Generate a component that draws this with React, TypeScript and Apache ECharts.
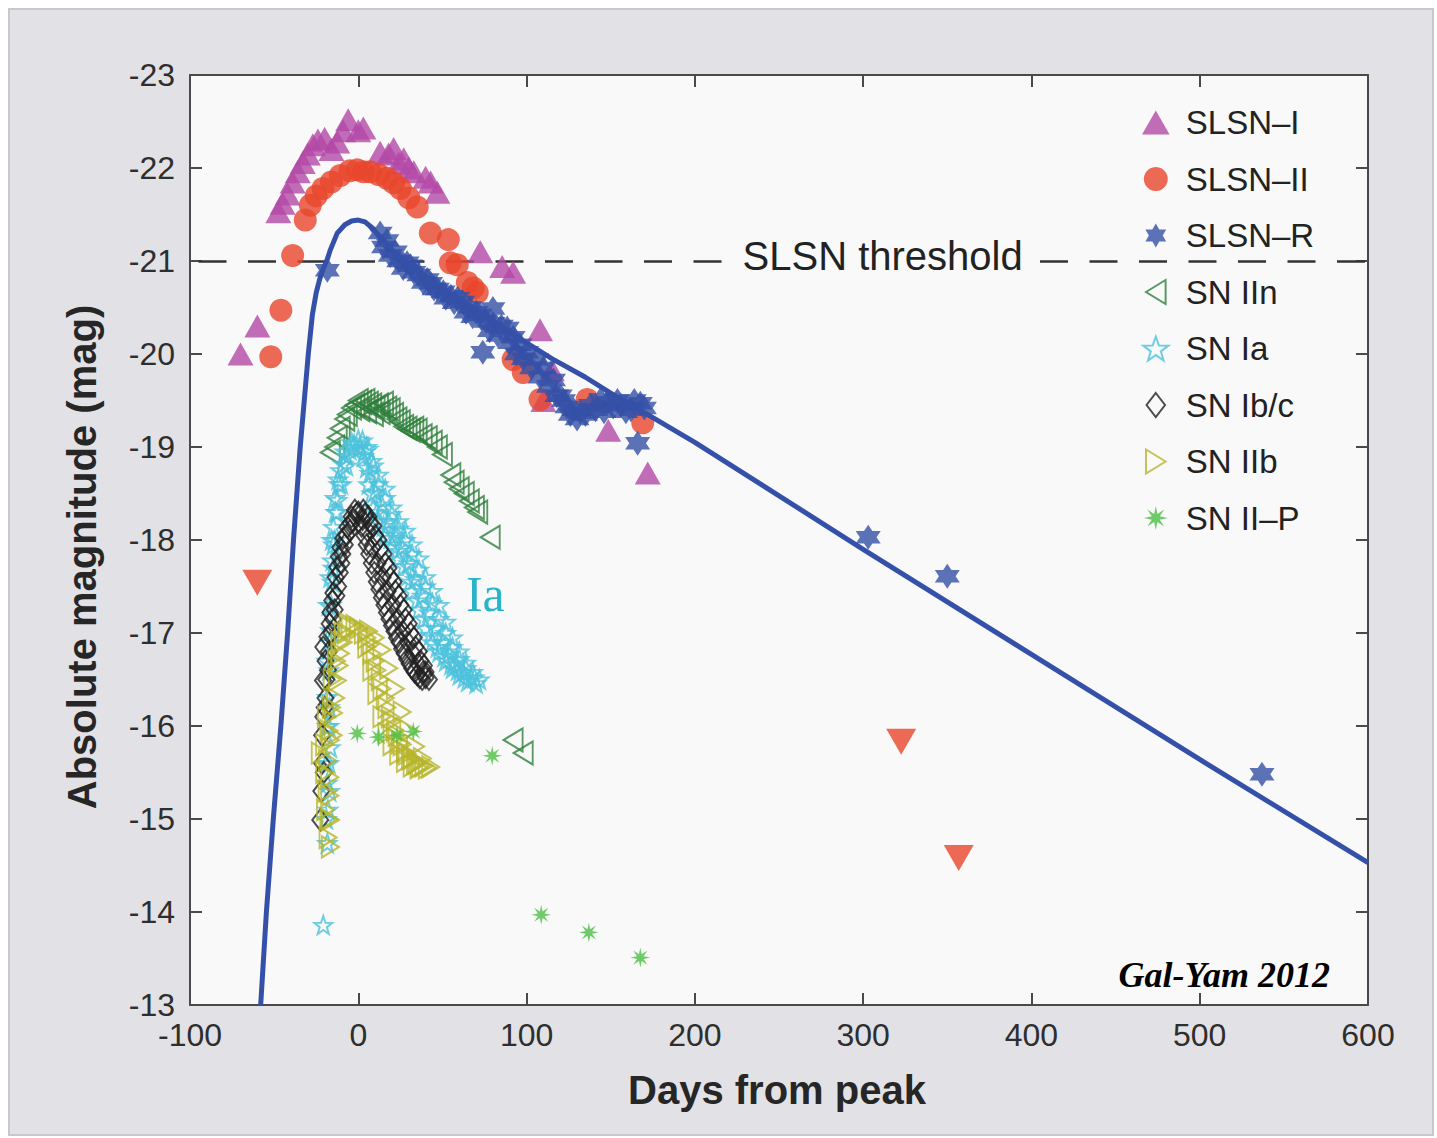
import { useEffect, useRef } from "react";
import * as echarts from "echarts";

// ---------- axes ----------
const X_MIN = -100;
const X_MAX = 600;
const X_STEP = 100;
const Y_MIN = -23;
const Y_MAX = -13;
const Y_STEP = 1;
const THRESHOLD = -21;

// ---------- data: [days from peak, absolute magnitude] ----------
const SLSN_I: number[][] = [
  [-70, -20.0], [-60, -20.3], [-47.5, -21.53], [-45, -21.62], [-42, -21.72], [-39, -21.85],
  [-36, -21.96], [-33, -22.06], [-30, -22.15], [-27, -22.25], [-24, -22.3], [-20, -22.32],
  [-16, -22.2], [-12.5, -22.28], [-9, -22.4], [-6, -22.52], [0, -22.4], [3, -22.43],
  [13, -22.17], [18, -22.15], [21, -22.21], [24, -22.05], [27, -22.1], [30, -22.0],
  [33, -21.96], [40, -21.9], [43, -21.85], [47, -21.74], [72.5, -21.1], [85.5, -20.94],
  [92, -20.88], [108, -20.26], [110, -19.5], [115, -19.83], [148.5, -19.18], [172, -18.72],
];

const SLSN_II: number[][] = [
  [-52, -19.97], [-46, -20.47], [-39, -21.06], [-31.5, -21.44], [-28.5, -21.6], [-25, -21.7],
  [-21, -21.78], [-16, -21.85], [-10.7, -21.92], [-5, -21.97], [-0.6, -21.98], [3, -21.96],
  [7, -21.96], [12, -21.93], [17, -21.89], [21, -21.84], [25, -21.78], [30, -21.68],
  [35, -21.58], [42.8, -21.3], [53.5, -21.23], [54.7, -20.98], [58.8, -20.96], [64.8, -20.77],
  [68.3, -20.71], [70.7, -20.66], [92, -19.94], [98, -19.8], [108, -19.51], [136, -19.51],
  [169, -19.26],
];

const SLSN_II_LIMITS: number[][] = [
  [-60, -17.54], [322.6, -15.83], [356.8, -14.58],
];

const SLSN_R: number[][] = [
  [-18.4, -20.9], [13, -21.3], [15, -21.15], [17, -21.22], [19, -21.06], [22, -21.1],
  [24, -21.0], [26.7, -20.92], [29, -20.98], [31, -20.95], [33, -20.88], [36, -20.85],
  [38.6, -20.77], [41, -20.8], [43, -20.76], [45, -20.7], [47, -20.7], [50.5, -20.67],
  [52, -20.6], [55, -20.62], [57, -20.55], [59, -20.6], [62, -20.56], [64, -20.45],
  [66, -20.5], [68, -20.4], [70, -20.45], [72.5, -20.42], [74, -20.02], [76, -20.35],
  [78, -20.25], [80, -20.49], [80, -20.33], [83, -20.2], [85, -20.3], [88.5, -20.28],
  [90, -20.12], [92, -20.18], [94, -20.0], [96, -20.1], [98, -19.95], [100, -20.02],
  [103, -19.85], [106, -19.94], [108, -19.75], [110, -19.85], [113, -19.65], [116, -19.72],
  [118, -19.55], [120, -19.55], [122, -19.5], [124, -19.43], [126, -19.35], [128, -19.4],
  [130, -19.3], [132, -19.37], [135, -19.35], [138, -19.45], [141, -19.4], [144, -19.51],
  [146, -19.38], [148, -19.48], [151.5, -19.43], [154, -19.5], [156, -19.45], [159, -19.38],
  [162, -19.4], [164, -19.5], [167.6, -19.47], [170, -19.42], [166, -19.04],
  [303, -18.03], [350, -17.61], [537, -15.48],
];

const SN_IIN: number[][] = [
  [-16.6, -18.94], [-14, -19.0], [-12.5, -19.1], [-10.7, -19.2], [-8, -19.3], [-6.5, -19.35],
  [-4, -19.42], [-2, -19.45], [0, -19.5], [1, -19.4], [2, -19.48], [4, -19.5], [5, -19.38],
  [6, -19.47], [8, -19.45], [9, -19.35], [10, -19.42], [12, -19.45], [13, -19.37],
  [15, -19.47], [17, -19.42], [19, -19.4], [21, -19.35], [23, -19.3], [25, -19.27],
  [27, -19.22], [29, -19.2], [31, -19.18], [33, -19.2], [35, -19.18], [38, -19.12],
  [41, -19.1], [44, -19.05], [47, -19.0], [50, -18.92], [55, -18.7], [57, -18.62],
  [60, -18.55], [63, -18.5], [66, -18.42], [69, -18.35], [71, -18.3], [78.4, -18.03],
  [92, -15.85], [98, -15.71],
];

const SN_IA: number[][] = [
  [-20.8, -13.86], [-18.4, -14.74], [-18, -15.1], [-19, -15.0], [-17, -15.3], [-18.4, -15.39],
  [-19, -15.6], [-17.5, -15.6], [-16.6, -15.77], [-17.5, -16.0], [-18.5, -16.0],
  [-17.2, -16.2], [-18.4, -16.31], [-17.5, -16.6], [-18.8, -16.7], [-17, -16.9],
  [-16.6, -17.03], [-16, -17.3], [-17.8, -17.3], [-15.5, -17.55], [-16.8, -17.6],
  [-15, -17.7], [-15.5, -17.78], [-14.8, -17.95], [-14, -18.0], [-15.8, -18.0],
  [-14.8, -18.14], [-13.5, -18.3], [-12.5, -18.3], [-13.8, -18.45], [-12.5, -18.43],
  [-11.5, -18.6], [-10, -18.6], [-12, -18.65], [-10.7, -18.75], [-9, -18.82], [-7, -18.8],
  [-8, -18.95], [-7, -18.9], [-5, -18.97], [-3, -19.0], [-4, -19.05], [-2.5, -19.03],
  [0, -19.08], [1, -19.0], [2.5, -19.07],
  [3, -18.9], [6, -18.6], [9, -18.35], [12, -18.2], [16, -18.05], [20, -17.95], [24, -17.8],
  [28, -17.6], [32, -17.45], [36, -17.25], [40, -17.05], [44, -16.9], [48, -16.8],
  [52, -16.7], [56, -16.62], [60, -16.55], [65, -16.48],
  [5, -18.78], [8, -18.5], [11, -18.3], [15, -18.15], [19, -18.02], [23, -17.88],
  [27, -17.72], [31, -17.55], [35, -17.35], [39, -17.15], [43, -16.98], [47, -16.85],
  [51, -16.75], [55, -16.66], [59, -16.6], [63, -16.52],
  [4, -18.95], [7, -18.72], [10, -18.52], [14, -18.38], [18, -18.2], [22, -18.05],
  [26, -17.92], [30, -17.75], [34, -17.58], [38, -17.4], [42, -17.22], [46, -17.05],
  [50, -16.9], [54, -16.78], [58, -16.66], [62, -16.58], [67, -16.52], [70, -16.46],
  [6, -18.98], [9, -18.8], [12, -18.6], [16, -18.45], [20, -18.28], [24, -18.12],
  [28, -18.0], [32, -17.85], [36, -17.68], [40, -17.5], [44, -17.32], [48, -17.15],
  [52, -17.0], [56, -16.85], [60, -16.72], [64, -16.62], [69, -16.52],
  [5, -19.0], [8, -18.85], [12, -18.7], [16, -18.55], [20, -18.35], [24, -18.2],
  [28, -18.1], [32, -17.95], [36, -17.8], [40, -17.6], [44, -17.45], [48, -17.3],
  [52, -17.12], [56, -16.95], [60, -16.8], [64, -16.68], [68, -16.58], [72, -16.5],
];

const SN_IBC: number[][] = [
  [-22.6, -14.99], [-22, -15.3], [-20.5, -15.5], [-21.5, -15.6], [-21.5, -15.9],
  [-20.8, -16.1], [-20, -16.2], [-19.5, -16.3], [-21, -16.49], [-19, -16.5], [-18, -16.6],
  [-20.8, -16.85], [-19.5, -16.7], [-17.5, -16.8], [-18.4, -16.96], [-16, -17.0],
  [-17, -17.1], [-15, -17.15], [-16.6, -17.22], [-14, -17.25], [-15.5, -17.35],
  [-13, -17.4], [-14.8, -17.43], [-12, -17.5], [-13.5, -17.6], [-11, -17.65],
  [-12.5, -17.71], [-10, -17.75], [-11.5, -17.82], [-9.5, -17.85], [-10.7, -17.92],
  [-8, -17.95], [-9, -18.02], [-7, -18.05], [-5, -18.1], [-6.5, -18.14], [-4.5, -18.18],
  [-3, -18.2], [-4, -18.25], [-1, -18.28], [-2, -18.32], [0, -18.3],
  [2, -18.15], [5, -17.95], [8, -17.75], [11, -17.55], [14, -17.38], [17, -17.22],
  [20, -17.08], [23, -16.95], [26, -16.83], [29, -16.72], [32, -16.62], [35, -16.55],
  [38, -16.5],
  [3.5, -18.05], [6.5, -17.85], [9.5, -17.65], [12.5, -17.47], [15.5, -17.3], [18.5, -17.15],
  [21.5, -17.02], [24.5, -16.9], [27.5, -16.78], [30.5, -16.67], [33.5, -16.58], [36.5, -16.52],
  [2.5, -18.22], [5.5, -18.1], [8.5, -17.92], [11.5, -17.75], [14.5, -17.6], [17.5, -17.45],
  [20.5, -17.3], [23.5, -17.15], [26.5, -17.02], [29.5, -16.9], [32.5, -16.78],
  [35.5, -16.67], [38.5, -16.58], [40, -16.52],
  [4, -18.28], [7, -18.18], [10, -18.05], [13, -17.9], [16, -17.75], [19, -17.6],
  [22, -17.45], [25, -17.3], [28, -17.15], [31, -17.0], [34, -16.85], [37, -16.7],
  [40, -16.58],
  [3, -18.32], [6, -18.25], [9, -18.15], [12, -18.0], [15, -17.85], [18, -17.7],
  [21, -17.55], [24, -17.4], [27, -17.25], [30, -17.1], [33, -16.95], [36, -16.8],
  [39, -16.65], [42, -16.5],
];

const SN_IIB: number[][] = [
  [-22.6, -15.71], [-20, -15.8], [-20, -15.5], [-19.5, -15.1], [-19, -16.1], [-18.4, -15.63],
  [-18.5, -15.3], [-17, -15.45], [-17, -15.25], [-16.6, -14.99], [-16.6, -14.7],
  [-17.5, -15.0], [-18, -14.8], [-16.6, -15.85], [-17.5, -15.95], [-15, -15.9],
  [-16, -16.2], [-14.8, -16.14], [-13.5, -16.3], [-15.5, -16.5], [-12.5, -16.49],
  [-13, -16.7], [-11.5, -16.65], [-10.7, -16.78], [-11, -16.9], [-9, -16.9], [-9, -17.0],
  [-7, -17.0], [-6, -17.1], [-4.8, -17.06], [-2, -17.08], [0, -17.05], [3, -17.0],
  [5, -16.85], [8, -16.6], [11, -16.35], [14, -16.1], [17, -15.92], [20, -15.8],
  [24, -15.7], [28, -15.62], [32, -15.57], [36, -15.55],
  [5, -16.95], [8, -16.78], [11, -16.6], [14, -16.4], [17, -16.2], [20, -16.05],
  [23, -15.9], [26, -15.8], [29, -15.7], [32, -15.65], [35, -15.6], [39, -15.57],
  [7, -16.88], [10, -16.7], [13, -16.5], [16, -16.3], [19, -16.1], [22, -15.95],
  [25, -15.82], [28, -15.72], [31, -15.65], [34, -15.6], [37, -15.57], [41, -15.55],
  [6, -17.02], [10, -16.95], [14, -16.82], [18, -16.62], [22, -16.4], [26, -16.15],
  [30, -15.95], [34, -15.78], [38, -15.65], [43, -15.56],
];

const SN_IIP: number[][] = [
  [-0.6, -15.92], [12, -15.88], [23, -15.9], [32.7, -15.94], [79.6, -15.68],
  [108.7, -13.97], [137, -13.78], [167.6, -13.51],
];

// model light curve
const MODEL_DAYS = [
  -58, -54.6, -50.5, -46, -42, -38.5, -34.5, -32, -29.7, -27.3, -25, -23, -21, -18.4,
  -16.6, -12.5, -8, -4, 0, 4, 8, 12, 16, 20, 27, 35, 45, 55, 65, 75, 87, 100, 115, 135,
  150, 170, 200, 300, 400, 500, 600,
];
const MODEL_MAG = [
  -13, -14, -15, -16, -17, -18, -19, -19.52, -20, -20.42, -20.66, -20.8, -20.91, -21.02,
  -21.12, -21.3, -21.39, -21.43, -21.44, -21.42, -21.36, -21.28, -21.2, -21.12, -21.0,
  -20.9, -20.77, -20.65, -20.53, -20.42, -20.27, -20.12, -19.95, -19.75, -19.58, -19.37,
  -19.05, -17.9, -16.77, -15.64, -14.53,
];

const LEGEND_NAMES = [
  "SLSN–I", "SLSN–II", "SLSN–R", "SN IIn", "SN Ia", "SN Ib/c", "SN IIb", "SN II–P",
];

const NOTES = [
  { text: "SLSN threshold", day: 311.6, mag: -21.05 },
  { text: "Ia", day: 75.5, mag: -17.42 },
  { text: "Gal-Yam 2012", day: 514.6, mag: -13.32 },
];

// ---------- symbols ----------
const HEXAGRAM =
  "path://M50,0 L64.4,25 L93.3,25 L78.9,50 L93.3,75 L64.4,75 L50,100 L35.6,75 L6.7,75 L21.1,50 L6.7,25 L35.6,25 Z";
const STAR5 =
  "path://M50,0 L61.76,33.82 L97.55,34.55 L69.02,56.18 L79.39,90.45 L50,70 L20.61,90.45 L30.98,56.18 L2.45,34.55 L38.24,33.82 Z";
const ASTERISK =
  "path://M100,50 L66.63,56.89 L85.36,85.36 L56.89,66.63 L50,100 L43.11,66.63 L14.64,85.36 L33.37,56.89 L0,50 L33.37,43.11 L14.64,14.64 L43.11,33.37 L50,0 L56.89,33.37 L85.36,14.64 L66.63,43.11 Z";
const TRI_UP = "path://M50,0 L100,87 L0,87 Z";
const TRI_DOWN = "path://M0,0 L100,0 L50,87 Z";
const TRI_LEFT = "path://M0,55 L90,0 L90,110 Z";
const TRI_RIGHT = "path://M90,55 L0,0 L0,110 Z";
const DIAMOND = "path://M40,0 L80,52 L40,104 L0,52 Z";

const SANS = "Liberation Sans";
const SERIF = "Liberation Serif";

function scatter(
  name: string,
  data: number[][],
  symbol: string,
  size: number | number[],
  color: string,
  hollow: boolean
) {
  return {
    name,
    type: "scatter",
    data,
    symbol,
    symbolSize: size,
    silent: true,
    itemStyle: hollow
      ? { color: "rgba(255,255,255,0)", borderColor: color, borderWidth: 2 }
      : { color, borderWidth: 0 },
  };
}

export default function App() {
  const ref = useRef<HTMLDivElement>(null);
  useEffect(() => {
    const chart = echarts.init(ref.current!, null, { renderer: "svg" });

    const gridLeft = 190;
    const gridTop = 75;
    const gridW = 1178;
    const gridH = 930;

    const axisLine = { show: true, onZero: false, lineStyle: { color: "#4a4a4a", width: 2 } };
    const tick = { show: true, inside: true, length: 12, lineStyle: { color: "#4a4a4a", width: 2 } };

    const option: any = {
      animation: false,
      backgroundColor: "#ffffff",
      textStyle: { fontFamily: SANS },
      grid: {
        left: gridLeft,
        top: gridTop,
        width: gridW,
        height: gridH,
        outerBoundsMode: "none",
        containLabel: false,
      },
      graphic: [
        {
          type: "rect",
          z: -10,
          silent: true,
          shape: { x: 9, y: 9, width: 1424, height: 1126 },
          style: { fill: "#e2e2e6", stroke: "#c8c8cc", lineWidth: 2 },
        },
        {
          type: "rect",
          z: -9,
          silent: true,
          shape: { x: gridLeft, y: gridTop, width: gridW, height: gridH },
          style: { fill: "#f9f9f9" },
        },
        {
          type: "text",
          z: 10,
          x: 82,
          y: 557,
          rotation: Math.PI / 2,
          style: {
            text: "Absolute magnitude (mag)",
            font: `bold 40px "${SANS}"`,
            fill: "#262626",
            align: "center",
            verticalAlign: "middle",
          },
        },
        {
          type: "text",
          z: 10,
          x: 777,
          y: 1090,
          style: {
            text: "Days from peak",
            font: `bold 40px "${SANS}"`,
            fill: "#262626",
            align: "center",
            verticalAlign: "middle",
          },
        },
      ],
      legend: {
        orient: "vertical",
        left: 1137,
        top: 101,
        itemWidth: 50,
        itemHeight: 24,
        itemGap: 23.5,
        selectedMode: false,
        data: LEGEND_NAMES,
        textStyle: { fontSize: 33, fontFamily: SANS, color: "#222", lineHeight: 33 },
      },
      xAxis: [
        {
          type: "value",
          min: X_MIN,
          max: X_MAX,
          interval: X_STEP,
          position: "bottom",
          axisLine,
          axisTick: tick,
          splitLine: { show: false },
          axisLabel: { fontSize: 32, color: "#2e2e2e", margin: 14, fontFamily: SANS },
        },
        {
          type: "value",
          min: X_MIN,
          max: X_MAX,
          interval: X_STEP,
          position: "top",
          axisLine,
          axisTick: tick,
          splitLine: { show: false },
          axisLabel: { show: false },
        },
      ],
      yAxis: [
        {
          type: "value",
          min: Y_MIN,
          max: Y_MAX,
          interval: Y_STEP,
          inverse: true,
          position: "left",
          axisLine,
          axisTick: tick,
          splitLine: { show: false },
          axisLabel: { fontSize: 32, color: "#2e2e2e", margin: 15, fontFamily: SANS },
        },
        {
          type: "value",
          min: Y_MIN,
          max: Y_MAX,
          interval: Y_STEP,
          inverse: true,
          position: "right",
          axisLine,
          axisTick: tick,
          splitLine: { show: false },
          axisLabel: { show: false },
        },
      ],
      series: [
        {
          name: "threshold",
          type: "line",
          data: [],
          silent: true,
          markLine: {
            z: 1,
            silent: true,
            symbol: ["none", "none"],
            label: { show: false },
            lineStyle: { color: "#333", width: 2.5, type: [28, 21.5], dashOffset: 40.5 },
            data: [{ yAxis: THRESHOLD }],
          },
        },
        scatter("SLSN–I", SLSN_I, TRI_UP, [26, 23], "#b348a6", false),
        scatter("SLSN–II", SLSN_II, "circle", 23, "#e9462c", false),
        scatter("SLSN–II limits", SLSN_II_LIMITS, TRI_DOWN, [30, 26], "#e9462c", false),
        scatter("SLSN–R", SLSN_R, HEXAGRAM, 25, "#3550a6", false),
        {
          name: "model",
          type: "line",
          data: MODEL_DAYS.map((d, i) => [d, MODEL_MAG[i]]),
          showSymbol: false,
          symbol: "none",
          smooth: false,
          silent: true,
          lineStyle: { color: "#3550a8", width: 5, join: "round" },
        },
        scatter("SN IIn", SN_IIN, TRI_LEFT, [19, 23], "#2f7f3c", true),
        scatter("SN Ia", SN_IA, STAR5, 18, "#4cc2dc", true),
        scatter("SN Ib/c", SN_IBC, DIAMOND, [16, 21], "#222222", true),
        scatter("SN IIb", SN_IIB, TRI_RIGHT, [17, 21], "#b7b52a", true),
        scatter("SN II–P", SN_IIP, ASTERISK, 20, "#4cbf45", false),
        {
          name: "notes",
          type: "scatter",
          data: [],
          silent: true,
          markPoint: {
            z: 10,
            silent: true,
            symbol: "rect",
            symbolSize: 1,
            itemStyle: { color: "rgba(0,0,0,0)" },
            data: [
              {
                name: NOTES[0].text,
                coord: [NOTES[0].day, NOTES[0].mag],
                label: {
                  show: true,
                  position: "inside",
                  formatter: "{b}",
                  fontSize: 40,
                  fontFamily: SANS,
                  color: "#222",
                  backgroundColor: "#f9f9f9",
                  padding: [2, 16],
                },
              },
              {
                name: NOTES[1].text,
                coord: [NOTES[1].day, NOTES[1].mag],
                label: {
                  show: true,
                  position: "inside",
                  formatter: "{b}",
                  fontSize: 50,
                  fontFamily: SERIF,
                  color: "#2ab4c8",
                },
              },
              {
                name: NOTES[2].text,
                coord: [NOTES[2].day, NOTES[2].mag],
                label: {
                  show: true,
                  position: "inside",
                  formatter: "{b}",
                  fontSize: 36,
                  fontFamily: SERIF,
                  fontStyle: "italic",
                  fontWeight: "bold",
                  color: "#000",
                },
              },
            ],
          },
        },
      ],
    };

    chart.setOption(option);
    return () => chart.dispose();
  }, []);

  return (
    <div
      ref={ref}
      style={{ position: "fixed", left: 0, top: 0, width: 1437, height: 1138 }}
    />
  );
}
